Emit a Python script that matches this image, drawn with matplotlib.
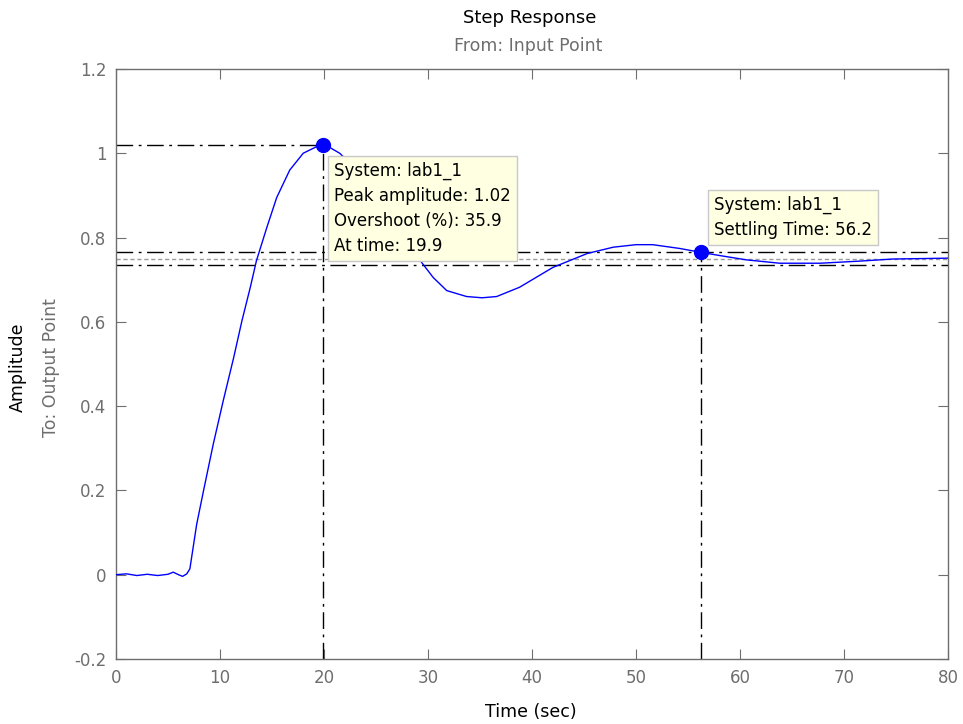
import matplotlib
matplotlib.use("Agg")
import matplotlib.pyplot as plt

plt.rcParams['font.family'] = ['DejaVu Sans']

# step response
time = [0, 1, 2, 3, 4, 5, 5.5, 6.0, 6.4, 6.8, 7.1, 7.75, 8.4, 9.35, 10.3, 11.3,
        12.1, 12.9, 13.5, 14.5, 15.45, 16.7, 18.0, 19.9, 21.5, 23, 25, 27,
        28.5, 29.5, 30.5, 31.8, 33.7, 35.2, 36.6, 38.8, 42, 45.3, 47.8, 50,
        51.6, 54.2, 56.2, 58.1, 60.6, 63.8, 67.7, 71.5, 74.7, 80]
amplitude = [0, 0.002, -0.002, 0.001, -0.002, 0.001, 0.006, 0.0, -0.004, 0.002,
             0.014, 0.119, 0.198, 0.31, 0.412, 0.514, 0.602, 0.681, 0.745,
             0.824, 0.895, 0.96, 1.0, 1.023, 1.0, 0.965, 0.90, 0.82, 0.77,
             0.737, 0.705, 0.674, 0.66, 0.657, 0.66, 0.682, 0.729, 0.762,
             0.777, 0.783, 0.783, 0.774, 0.765, 0.757, 0.747, 0.739, 0.739,
             0.744, 0.749, 0.751]

peak_time = 19.9
peak_amp = 1.02
overshoot = 35.9
settle_time = 56.2
final_value = 0.75
settle_band = 0.02

x_ticks = [0, 10, 20, 30, 40, 50, 60, 70, 80]
y_ticks = [-0.2, 0, 0.2, 0.4, 0.6, 0.8, 1, 1.2]
y_labels = ['-0.2', '0', '0.2', '0.4', '0.6', '0.8', '1', '1.2']

gray = '#6e6e6e'
dashdot = (12, 4, 2, 4)

fig = plt.figure(figsize=(9.63, 7.24), dpi=100)
ax = fig.add_axes([0.1205, 0.0898, 0.864, 0.815])

ax.plot(time, amplitude, color='#0000ff', linewidth=1.0, zorder=3)

# peak characteristic
ax.plot([0, peak_time], [peak_amp, peak_amp], color='black', linestyle='-.',
        linewidth=1.0, dashes=dashdot, zorder=2)
ax.plot([peak_time, peak_time], [-0.2, peak_amp], color='black', linestyle='-.',
        linewidth=1.0, dashes=dashdot, zorder=2)
ax.plot(peak_time, peak_amp, 'o', color='#0000ff', markersize=10, zorder=5)

# settling band
for f in (1 + settle_band, 1 - settle_band):
    ax.axhline(final_value * f, color='black', linestyle='-.', linewidth=1.0,
               dashes=dashdot, zorder=2)
ax.axhline(final_value, color='#9a9a9a', linestyle=':', linewidth=1.0,
           dashes=(3, 2), zorder=2)
ax.plot([settle_time, settle_time], [-0.2, final_value * (1 + settle_band)],
        color='black', linestyle='-.', linewidth=1.0, dashes=dashdot, zorder=2)
ax.plot(settle_time, final_value * (1 + settle_band), 'o', color='#0000ff',
        markersize=10, zorder=5)

box = dict(boxstyle='square,pad=0.35', facecolor='#ffffe1', edgecolor='#c8c8c8',
           linewidth=1.0)
ax.text(20.96, 0.979,
        "System: lab1_1\nPeak amplitude: %.2f\nOvershoot (%%): %.1f\nAt time: %.1f"
        % (peak_amp, overshoot, peak_time),
        fontsize=12, va='top', ha='left', linespacing=1.5, bbox=box, zorder=6)
ax.text(57.5, 0.899,
        "System: lab1_1\nSettling Time: %.1f" % settle_time,
        fontsize=12, va='top', ha='left', linespacing=1.5, bbox=box, zorder=6)

ax.set_xlim(0, 80)
ax.set_ylim(-0.2, 1.2)
ax.set_xticks(x_ticks)
ax.set_xticklabels([str(t) for t in x_ticks])
ax.set_yticks(y_ticks)
ax.set_yticklabels(y_labels)
ax.tick_params(direction='in', length=7, top=True, right=True, colors=gray,
               labelsize=12, pad=7)
for s in ax.spines.values():
    s.set_color(gray)
    s.set_linewidth(1.0)

fig.text(0.550, 0.975, "Step Response", ha='center', va='center', fontsize=13,
         color='black')
fig.text(0.548, 0.936, "From: Input Point", ha='center', va='center',
         fontsize=12.5, color=gray)
fig.text(0.551, 0.016, "Time (sec)", ha='center', va='center', fontsize=12.5,
         color='black')
fig.text(0.019, 0.493, "Amplitude", rotation=90, ha='center', va='center',
         fontsize=12.5, color='black')
fig.text(0.053, 0.493, "To: Output Point", rotation=90, ha='center',
         va='center', fontsize=12.5, color=gray)

fig.savefig('out.png', dpi=100)
